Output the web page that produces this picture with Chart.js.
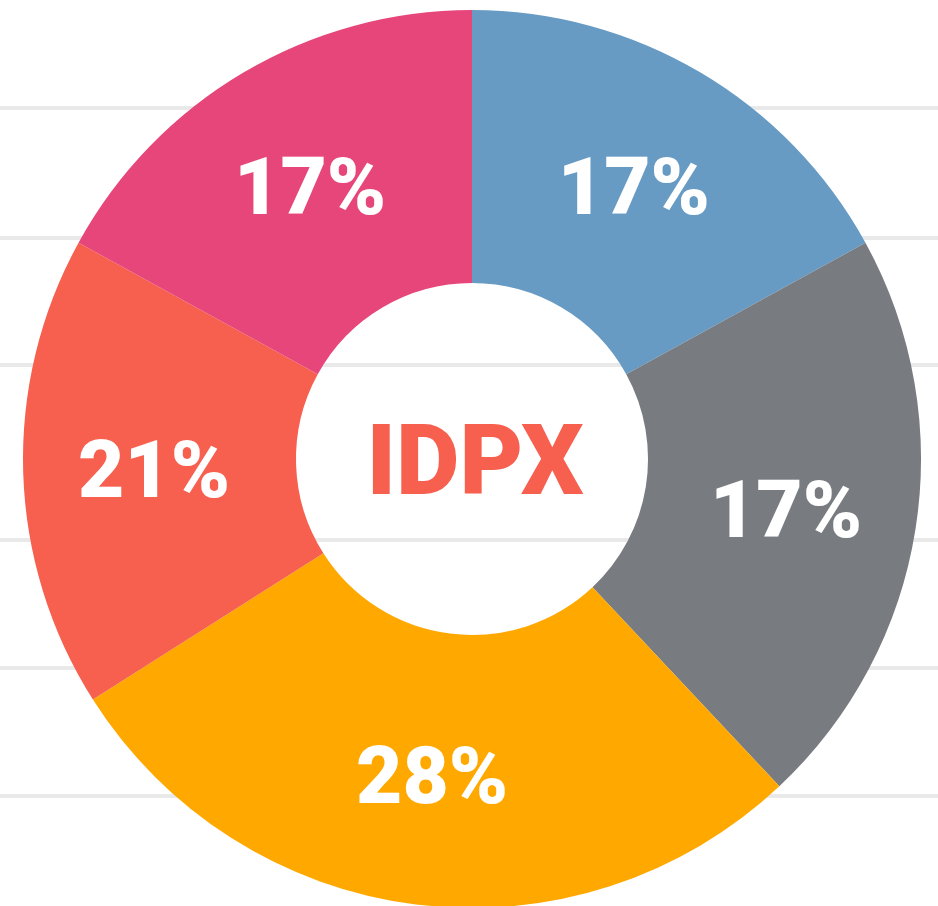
<!DOCTYPE html>
<html>
<head>
<meta charset="utf-8">
<script src="https://cdn.jsdelivr.net/npm/chart.js@4/dist/chart.umd.min.js"></script>
<style>
  html, body { margin: 0; padding: 0; background: #ffffff; overflow: hidden; }
  #wrap { position: relative; width: 938px; height: 906px; overflow: hidden; }
  #bg { position: absolute; left: 0; top: 0; }
  #pie { position: absolute; left: 0; top: 0; }
</style>
</head>
<body>
<div id="wrap">
  <canvas id="bg" width="938" height="906"></canvas>
  <canvas id="pie" width="938" height="920"></canvas>
</div>
<script>
// ---- data ----
const categories = ['Blue', 'Gray', 'Orange', 'Red', 'Pink'];
const sliceValues = [17, 21, 28, 17, 17];          // slice sizes as drawn
const sliceLabels = ['17%', '17%', '28%', '21%', '17%']; // text printed on slices
const sliceColors = ['#679BC4', '#787B80', '#FFA800', '#F75F4F', '#E6467A'];
const centerText = 'IDPX';
// background rule rows (value axis of the backdrop, 0 = top, 906 = bottom)
const backdropRows = [108, 238, 364.5, 540, 668, 796];

// ---- backdrop with horizontal rules ----
new Chart(document.getElementById('bg'), {
  type: 'line',
  data: { labels: ['a', 'b'], datasets: [] },
  options: {
    responsive: false,
    animation: false,
    events: [],
    layout: { padding: 0 },
    plugins: { legend: { display: false }, tooltip: { enabled: false } },
    scales: {
      x: { display: false },
      y: {
        type: 'linear', min: 0, max: 906, reverse: true,
        afterBuildTicks: (scale) => { scale.ticks = backdropRows.map(v => ({ value: v })); },
        ticks: { display: false },
        border: { display: false },
        grid: { color: '#e9e9e9', lineWidth: 4, drawTicks: false }
      }
    }
  }
});

// ---- doughnut ----
const sliceTextPlugin = {
  id: 'sliceText',
  afterDatasetsDraw(chart) {
    const ctx = chart.ctx;
    const meta = chart.getDatasetMeta(0);
    const size = 80;
    ctx.save();
    ctx.fillStyle = '#ffffff';
    ctx.font = '900 ' + size + 'px Roboto, "Liberation Sans", sans-serif';
    ctx.textAlign = 'center';
    ctx.textBaseline = 'alphabetic';
    meta.data.forEach((arc, i) => {
      const p = arc.getProps(['x', 'y', 'startAngle', 'endAngle', 'innerRadius', 'outerRadius'], true);
      const mid = (p.startAngle + p.endAngle) / 2;
      const r = p.innerRadius + (p.outerRadius - p.innerRadius) * 0.52;
      const cx = p.x + Math.cos(mid) * r;
      const cy = p.y + Math.sin(mid) * r;
      ctx.fillText(sliceLabels[i], cx, cy + size * 0.711 / 2);
    });
    // centre text
    const a0 = meta.data[0];
    const csize = 98;
    ctx.fillStyle = '#F75F4F';
    ctx.font = '900 ' + csize + 'px Roboto, "Liberation Sans", sans-serif';
    ctx.fillText(centerText, a0.x + 3, a0.y + csize * 0.711 / 2);
    ctx.restore();
  }
};

new Chart(document.getElementById('pie'), {
  type: 'doughnut',
  data: {
    labels: categories,
    datasets: [{
      data: sliceValues,
      backgroundColor: sliceColors,
      borderWidth: 0,
      hoverBorderWidth: 0,
      offset: 0,
      hoverOffset: 0
    }]
  },
  options: {
    responsive: false,
    animation: false,
    events: [],
    cutout: '39.2%',
    rotation: 0,
    layout: { padding: { left: 23, right: 17, top: 10, bottom: 12 } },
    plugins: { legend: { display: false }, tooltip: { enabled: false } }
  },
  plugins: [sliceTextPlugin]
});
</script>
</body>
</html>
